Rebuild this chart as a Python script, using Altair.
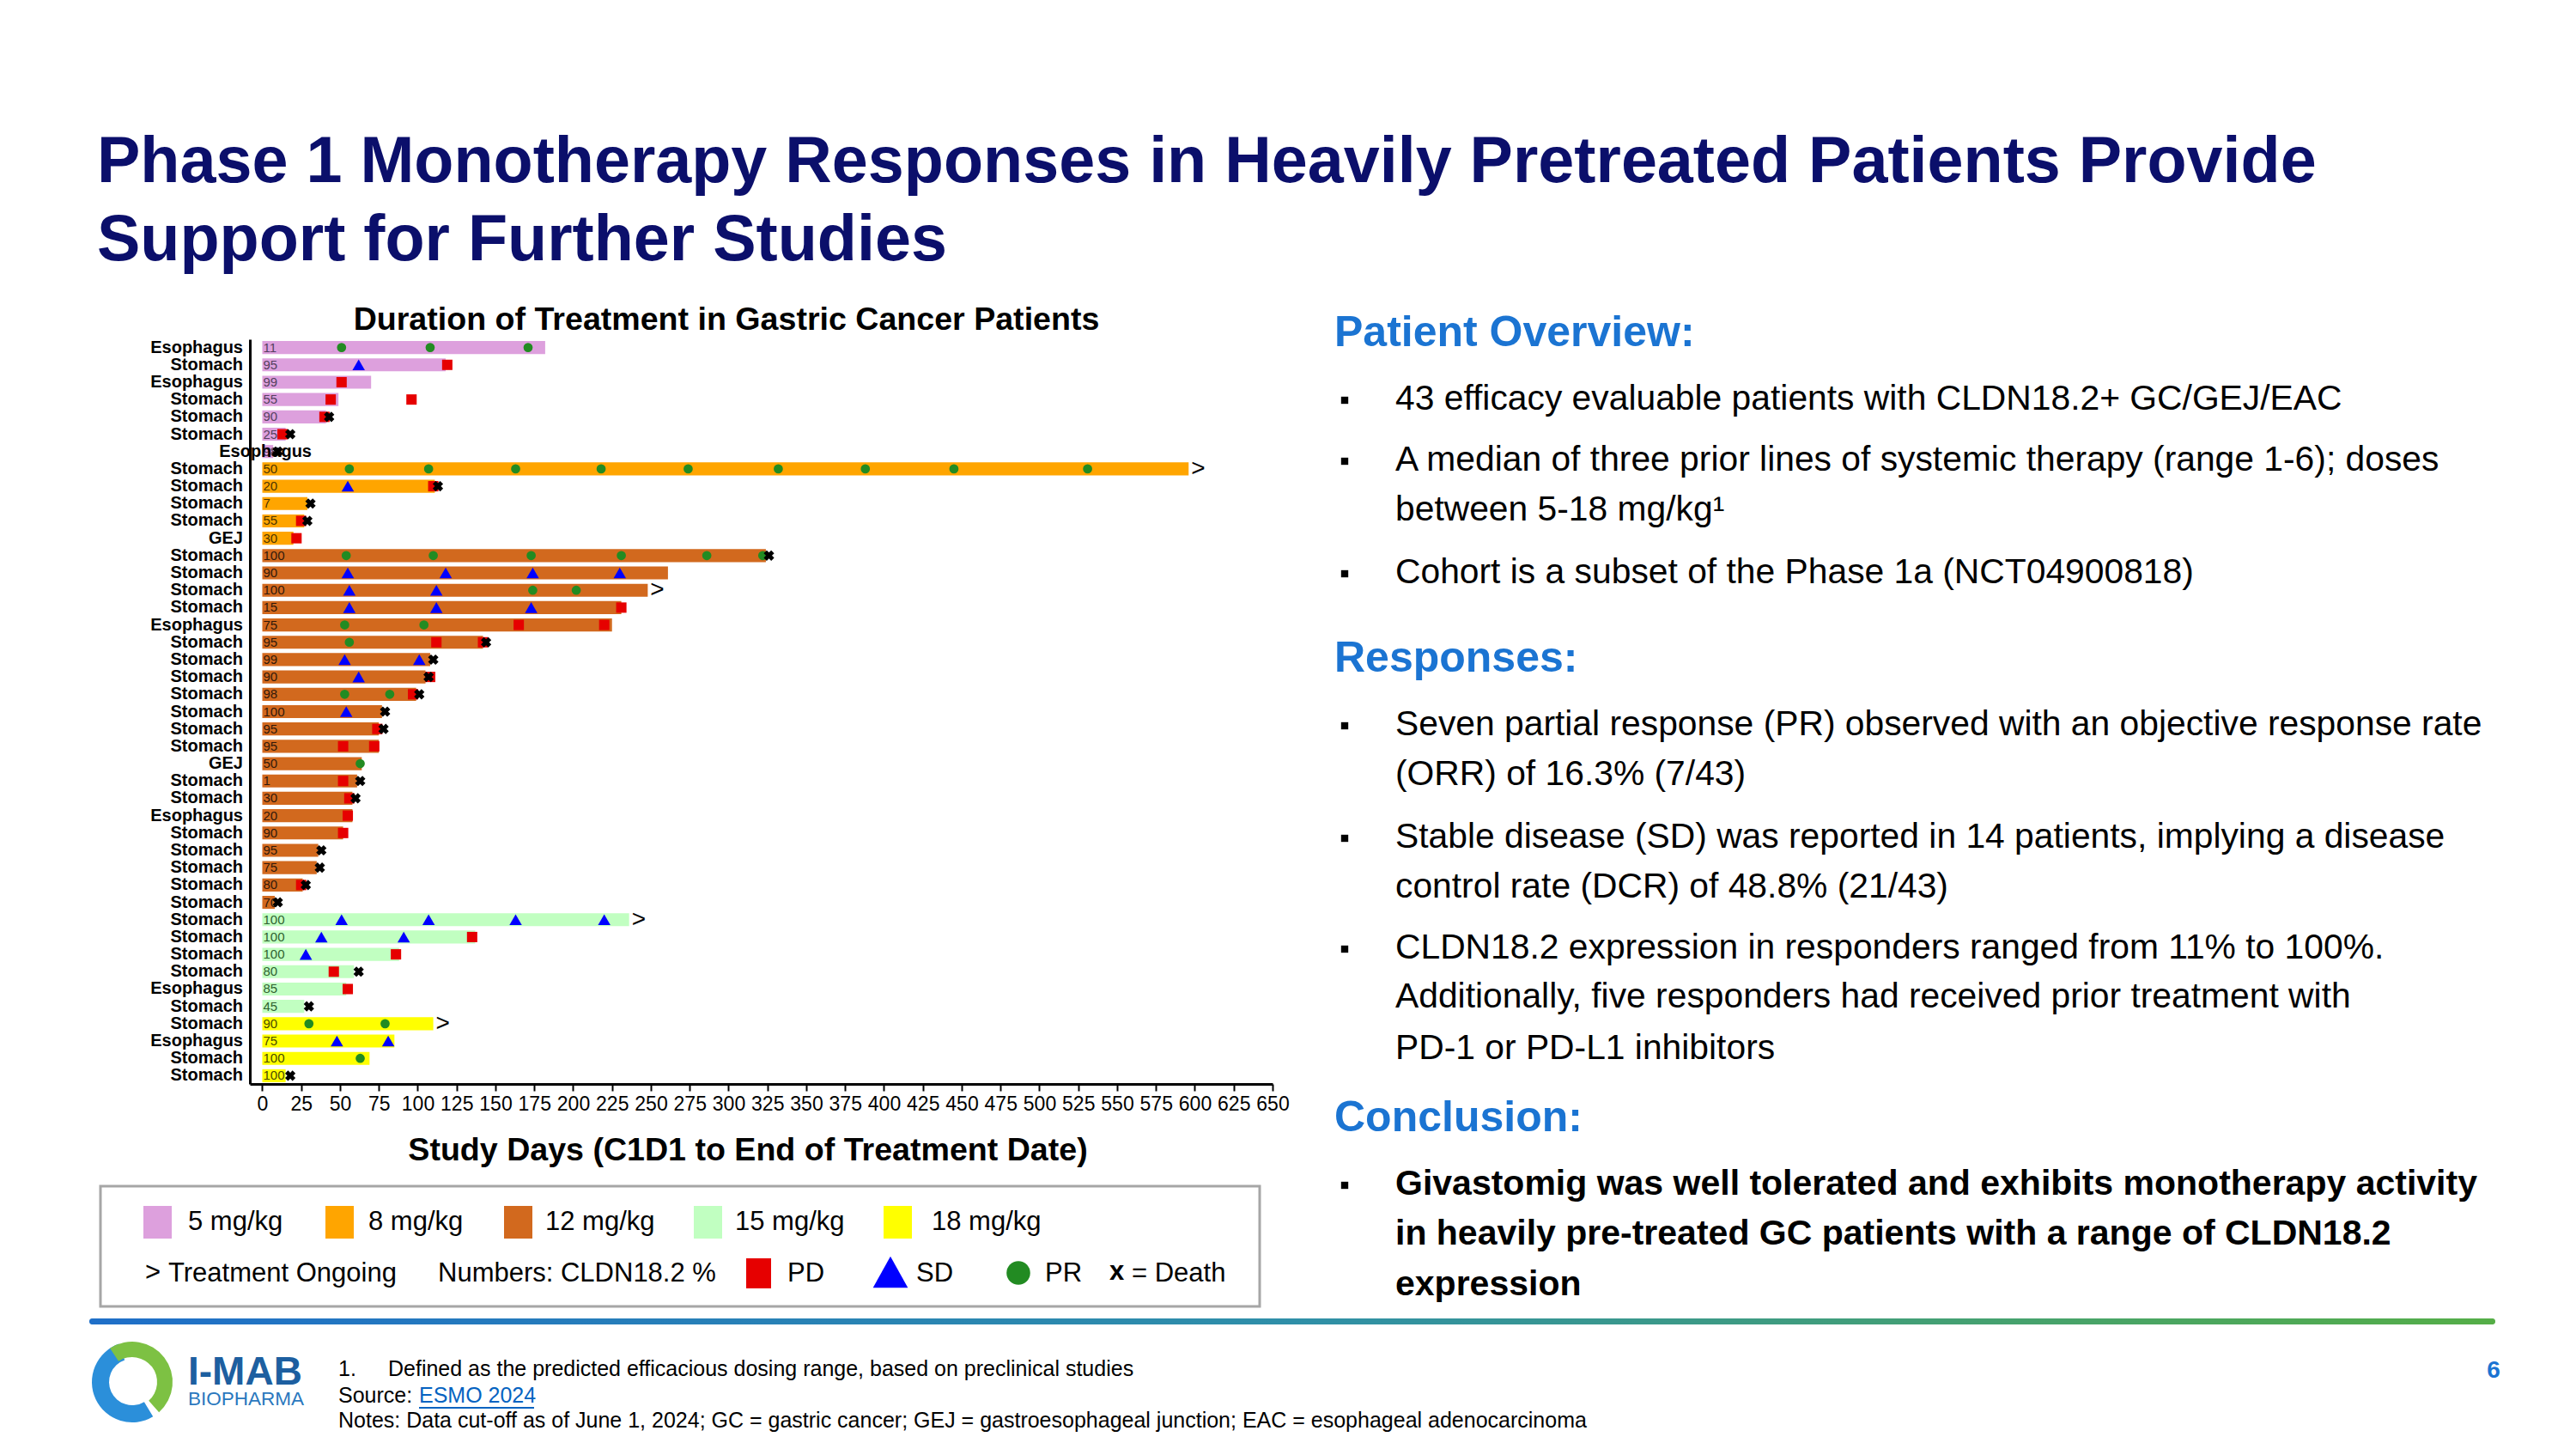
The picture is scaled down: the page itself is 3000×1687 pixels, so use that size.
import altair as alt
import pandas as pd

FONT = "Liberation Sans"

# ---------------- data ----------------
sites = ["Esophagus", "Stomach", "Esophagus", "Stomach", "Stomach", "Stomach", "Esophagus",
         "Stomach", "Stomach", "Stomach", "Stomach", "GEJ",
         "Stomach", "Stomach", "Stomach", "Stomach", "Esophagus", "Stomach", "Stomach", "Stomach",
         "Stomach", "Stomach", "Stomach", "Stomach", "GEJ", "Stomach", "Stomach", "Esophagus",
         "Stomach", "Stomach", "Stomach", "Stomach", "Stomach",
         "Stomach", "Stomach", "Stomach", "Stomach", "Esophagus", "Stomach",
         "Stomach", "Esophagus", "Stomach", "Stomach"]
cldn = [11, 95, 99, 55, 90, 25, 98,
        50, 20, 7, 55, 30,
        100, 90, 100, 15, 75, 95, 99, 90, 98, 100, 95, 95, 50, 1, 30, 20, 90, 95, 75, 80, 70,
        100, 100, 100, 80, 85, 45,
        90, 75, 100, 100]
dose = [5] * 7 + [8] * 5 + [12] * 21 + [15] * 6 + [18] * 4
duration = [182, 118, 70, 49, 41, 15, 7,
            596, 111, 29, 27, 20,
            324, 261, 248, 231, 225, 142, 108, 105, 99, 77, 75, 75, 64, 61, 58, 58, 52, 36, 35, 26, 8,
            236, 137, 88, 59, 54, 27,
            110, 85, 69, 15]
ongoing_rows = [8, 15, 34, 40]

pr_days = {1: [51, 108, 171], 8: [56, 107, 163, 218, 274, 332, 388, 445, 531],
           13: [54, 110, 173, 231, 286, 322], 15: [174, 202], 17: [53, 104], 18: [56],
           21: [53, 82], 25: [63], 40: [30, 79], 42: [63]}
sd_days = {2: [62], 9: [55], 14: [55, 118, 174, 230], 15: [56, 112], 16: [56, 112, 173],
           19: [53, 101], 20: [62], 22: [54], 34: [51, 107, 163, 220], 35: [38, 91],
           36: [28], 41: [48, 81]}
pd_days = {2: [119], 3: [51], 4: [44, 96], 5: [40], 6: [13], 9: [110], 11: [25], 12: [22],
           16: [231], 17: [165, 220], 18: [112, 142], 20: [108], 21: [97], 23: [74],
           24: [52, 72], 26: [52], 27: [56], 28: [55], 29: [52], 32: [25], 35: [135],
           36: [86], 37: [46], 38: [55]}
death_days = {5: [43], 6: [18], 7: [10], 9: [113], 10: [31], 11: [29], 13: [326], 18: [144],
              19: [110], 20: [107], 21: [101], 22: [79], 23: [78], 26: [63], 27: [60],
              30: [38], 31: [37], 32: [28], 33: [10], 37: [62], 39: [30], 43: [18]}

dose_levels = [5, 8, 12, 15, 18]
dose_labels = ["5 mg/kg", "8 mg/kg", "12 mg/kg", "15 mg/kg", "18 mg/kg"]
dose_colors = ["#DDA0DD", "#FFA500", "#D2691E", "#C1FFC1", "#FFFF00"]
num_colors = ["#55405F", "#4D3500", "#33190A", "#2F5F2F", "#4A4A00"]
x_ticks = list(range(0, 651, 25))

# ---------------- tables ----------------
bars_df = pd.DataFrame({
    "row": list(range(1, 44)),
    "site": sites,
    "cldn": cldn,
    "dose_lbl": [dose_labels[dose_levels.index(d)] for d in dose],
    "tcol": [num_colors[dose_levels.index(d)] for d in dose],
    "start": 0,
    "dur": duration,
})
bars_df["ongoing"] = bars_df["row"].isin(ongoing_rows)

ev = []
for kind, dct in [("PR", pr_days), ("SD", sd_days), ("PD", pd_days), ("Death", death_days)]:
    for r, days in dct.items():
        for d in days:
            ev.append({"row": r, "day": d, "kind": kind})
ev_df = pd.DataFrame(ev)

# ---------------- layout ----------------
OX, OY = 291, 395          # plot origin in page pixels
W, H = 1191, 867
PAD = {"left": OX - 8, "top": OY - 8, "right": 2984 - (OX - 8) - W, "bottom": 1671 - (OY - 8) - H}

xs = alt.Scale(domain=[-8, 650], nice=False, zero=False)
ys = alt.Scale(paddingInner=0.25, paddingOuter=0.1)
xaxis = alt.Axis(values=x_ticks, tickSize=8, tickWidth=2, tickColor="black", domainWidth=3,
                 domainColor="black", labelFontSize=23, labelFont=FONT, labelColor="black",
                 labelPadding=4, grid=False, labelFlush=False)
yaxis = alt.Axis(labels=False, ticks=False, domainWidth=3, domainColor="black", grid=False)

base = alt.Chart(bars_df)
bars = base.mark_bar().encode(
    x=alt.X("start:Q", scale=xs, axis=xaxis, title=None),
    x2="dur:Q",
    y=alt.Y("row:O", scale=ys, axis=yaxis, title=None),
    color=alt.Color("dose_lbl:N", scale=alt.Scale(domain=dose_labels, range=dose_colors), legend=None),
)
nums = base.mark_text(align="left", dx=1, fontSize=15, font=FONT).encode(
    x=alt.X("start:Q", title=None), y=alt.Y("row:O", title=None), text="cldn:Q",
    color=alt.Color("tcol:N", scale=None))
labels = base.transform_filter(alt.datum.row != 7).mark_text(
    align="right", fontSize=20, fontWeight="bold", font=FONT, color="black").encode(
    x=alt.value(-8), y=alt.Y("row:O", title=None), text="site:N")
label7 = base.transform_filter(alt.datum.row == 7).mark_text(
    align="right", fontSize=20, fontWeight="bold", font=FONT, color="black").encode(
    x=alt.value(72), y=alt.Y("row:O", title=None), text="site:N")
ongo = base.transform_filter(alt.datum.ongoing).mark_text(
    text=">", align="left", dx=3, fontSize=28, font=FONT, color="black").encode(
    x=alt.X("dur:Q", title=None), y=alt.Y("row:O", title=None))

evb = alt.Chart(ev_df)
def ev_layer(kind, **mk):
    return evb.transform_filter(alt.datum.kind == kind).mark_point(filled=True, opacity=1, **mk).encode(
        x=alt.X("day:Q", title=None), y=alt.Y("row:O", title=None))

pr = ev_layer("PR", shape="circle", size=115, color="#228B22")
sd = ev_layer("SD", shape="triangle-up", size=210, color="#0000FF")
pdl = ev_layer("PD", shape="square", size=145, color="#E60000")
death = ev_layer("Death", shape="cross", angle=45, size=150, color="black")

dummy = pd.DataFrame({"a": [0]})

def txt(s, X, Y, size, color="black", bold=False, align="left"):
    return alt.Chart(dummy).mark_text(
        text=s, align=align, baseline="middle", fontSize=size, font=FONT,
        fontWeight="bold" if bold else "normal", color=color).encode(
        x=alt.value(X - OX), y=alt.value(Y - OY))

def rect(X1, Y1, X2, Y2, **mk):
    return alt.Chart(dummy).mark_rect(**mk).encode(
        x=alt.value(X1 - OX), x2=alt.value(X2 - OX), y=alt.value(Y1 - OY), y2=alt.value(Y2 - OY))

def pt(X, Y, **mk):
    return alt.Chart(dummy).mark_point(filled=True, opacity=1, **mk).encode(
        x=alt.value(X - OX), y=alt.value(Y - OY))

ann = []
NAVY = "#0B0F6B"
BLUE = "#1B74D2"
# slide title
ann.append(txt("Phase 1 Monotherapy Responses in Heavily Pretreated Patients Provide", 113, 189, 75.5, NAVY, True))
ann.append(txt("Support for Further Studies", 113, 280, 75.5, NAVY, True))
# chart titles
ann.append(txt("Duration of Treatment in Gastric Cancer Patients", 846, 373, 37.6, "black", True, "center"))
ann.append(txt("Study Days (C1D1 to End of Treatment Date)", 871, 1340, 37.6, "black", True, "center"))

# legend box
ann.append(rect(117, 1381, 1467, 1521, fill="white", stroke="#A6A6A6", strokeWidth=3))
sw_x = [167, 379, 587, 808, 1029]
lb_x = [219, 429, 635, 856, 1085]
for i in range(5):
    ann.append(rect(sw_x[i], 1404, sw_x[i] + 33, 1442, color=dose_colors[i]))
    ann.append(txt(dose_labels[i], lb_x[i], 1423, 31))
ann.append(txt(">", 169, 1482, 31))
ann.append(txt("Treatment Ongoing", 196, 1483, 31))
ann.append(txt("Numbers: CLDN18.2 %", 510, 1483, 31))
ann.append(rect(869, 1465, 898, 1500, color="#E60000"))
ann.append(txt("PD", 917, 1483, 31))
ann.append(pt(1037, 1481, shape="M0,-0.9L1,0.9L-1,0.9Z", size=1650, color="#0000FF"))
ann.append(txt("SD", 1067, 1483, 31))
ann.append(pt(1186, 1482, shape="circle", size=760, color="#228B22"))
ann.append(txt("PR", 1217, 1483, 31))
ann.append(txt("x", 1292, 1481, 31, "black", True))
ann.append(txt("= Death", 1318, 1483, 31))

# right panel
ann.append(txt("Patient Overview:", 1554, 388, 50, BLUE, True))
ann.append(txt("Responses:", 1554, 767, 50, BLUE, True))
ann.append(txt("Conclusion:", 1554, 1302, 50, BLUE, True))
body = [
    ("43 efficacy evaluable patients with CLDN18.2+ GC/GEJ/EAC", 465, True, False),
    ("A median of three prior lines of systemic therapy (range 1-6); doses", 536, True, False),
    ("between 5-18 mg/kg\u00b9", 594, False, False),
    ("Cohort is a subset of the Phase 1a (NCT04900818)", 667, True, False),
    ("Seven partial response (PR) observed with an objective response rate", 844, True, False),
    ("(ORR) of 16.3% (7/43)", 902, False, False),
    ("Stable disease (SD) was reported in 14 patients, implying a disease", 975, True, False),
    ("control rate (DCR) of 48.8% (21/43)", 1033, False, False),
    ("CLDN18.2 expression in responders ranged from 11% to 100%.", 1104, True, False),
    ("Additionally, five responders had received prior treatment with", 1161, False, False),
    ("PD-1 or PD-L1 inhibitors", 1221, False, False),
    ("Givastomig was well tolerated and exhibits monotherapy activity", 1379, True, True),
    ("in heavily pre-treated GC patients with a range of CLDN18.2", 1437, False, True),
    ("expression", 1496, False, True),
]
for s, Y, bullet, bold in body:
    ann.append(txt(s, 1625, Y, 41 if bold else 40.8, "black", bold))
    if bullet:
        ann.append(pt(1566, Y + 1, shape="square", size=70, color="black"))

# gradient rule
ann.append(rect(104, 1535, 2906, 1542, cornerRadius=3,
                color=alt.Gradient(gradient="linear",
                                   stops=[alt.GradientStop(offset=0, color="#1F6FC8"),
                                          alt.GradientStop(offset=0.5, color="#2F8FA8"),
                                          alt.GradientStop(offset=1, color="#55AE47")],
                                   x1=0, x2=1, y1=0, y2=0)))

# logo
ann.append(alt.Chart(dummy).mark_arc(radius=47, radius2=27, theta=2.6, theta2=5.95, color="#2B8FDA").encode(
    x=alt.value(154 - OX), y=alt.value(1609 - OY)))
ann.append(alt.Chart(dummy).mark_arc(radius=47, radius2=29, theta=5.7, theta2=8.7, color="#7DC143").encode(
    x=alt.value(154 - OX), y=alt.value(1609 - OY)))
ann.append(txt("I-MAB", 219, 1598, 46, "#1D5FA0", True))
ann.append(txt("BIOPHARMA", 219, 1629, 22.5, "#2A78BE"))

# footnotes
ann.append(txt("1.", 394, 1594, 25))
ann.append(txt("Defined as the predicted efficacious dosing range, based on preclinical studies", 452, 1594, 25))
ann.append(txt("Source:", 394, 1625, 25))
ann.append(txt("ESMO 2024", 488, 1625, 25, "#0563C1"))
ann.append(rect(488, 1638, 622, 1640, color="#0563C1"))
ann.append(txt("Notes: Data cut-off as of June 1, 2024; GC = gastric cancer; GEJ = gastroesophageal junction; EAC = esophageal adenocarcinoma", 394, 1654, 25))
ann.append(txt("6", 2904, 1596, 28, BLUE, True, "center"))

chart = alt.layer(bars, nums, pr, sd, pdl, death, ongo, labels, label7, *ann).properties(
    width=W, height=H,
    autosize=alt.AutoSizeParams(type="none"),
    padding=PAD,
    background="white",
).configure_view(stroke=None)

chart.save("out.html", embed_options={"renderer": "svg", "actions": False})
